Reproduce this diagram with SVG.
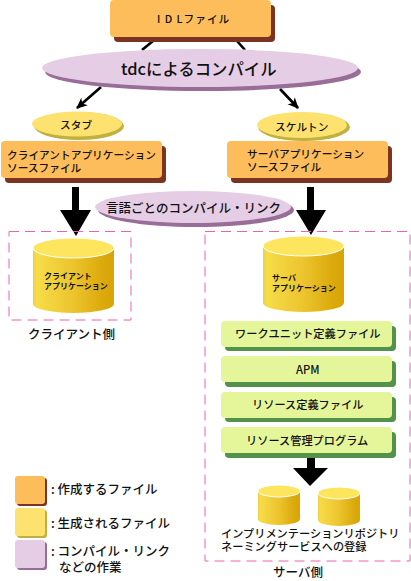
<svg xmlns="http://www.w3.org/2000/svg" width="411" height="581" viewBox="0 0 411 581">
<style>
text{font-family:"Noto Sans CJK JP","Noto Sans",sans-serif;font-weight:500;fill:#111}
.o{fill:#fdbd5a}.os{fill:#7b3322}
.y{fill:#fde26f}.ys{fill:#c0b040}
.p{fill:#e5cde5}.ps{fill:#986d98}
.g{fill:#e5f59a}.gs{fill:#52924a}
.t11{font-size:11.2px}.t10{font-size:10.7px}.t12{font-size:12.5px}.t8{font-size:8px;font-weight:700}
.dash{fill:none;stroke:#e866a8;stroke-width:1;stroke-dasharray:10 6}
.cyltop{fill:#fde55e;stroke:#fff;stroke-width:1}
.thin{stroke:#000;stroke-width:2.6;fill:none}
</style>
<defs>
<linearGradient id="cg" x1="0" x2="1" y1="0" y2="0">
<stop offset="0" stop-color="#f0d040"/><stop offset=".05" stop-color="#f6dc48"/><stop offset=".5" stop-color="#ecc42e"/><stop offset=".85" stop-color="#dcaa0c"/><stop offset="1" stop-color="#d8a408"/>
</linearGradient>
<marker id="ah" markerWidth="8" markerHeight="8" refX="6" refY="4" orient="auto" markerUnits="userSpaceOnUse" overflow="visible">
<path d="M-4,-1 L7,4 L-4,9 L-1,4 Z" fill="#000"/>
</marker>
</defs>
<g id="connectors">
<path class="thin" d="M153,41 L142,50"/>
<path class="thin" d="M237,41 L245,50"/>
<path class="thin" d="M101,87 L77,108" marker-end="url(#ah)"/>
<path class="thin" d="M280,89 L298,108" marker-end="url(#ah)"/>
<path d="M72,187H79V210H91L76,236L60,210H72Z" fill="#000"/>
<path d="M307,187H314V210H326L311,235L296,210H307Z" fill="#000"/>
<path d="M307,453H315V468H328L310,486L293,468H307Z" fill="#000"/>
</g>
<g id="dashed-areas">
<rect class="dash" x="9" y="231.500" width="122" height="88.500"/>
<rect class="dash" x="205" y="231.500" width="205" height="329.500"/>
</g>
<g id="idl"><rect class="os" x="114" y="5" width="161" height="37" rx="4"/><rect class="o" x="110" y="0" width="161" height="37" rx="4"/><text class="t10" x="157" y="23" letter-spacing="1">I D Lファイル</text></g>
<g id="tdc"><ellipse class="ps" cx="203" cy="72" rx="158" ry="19"/><ellipse class="p" cx="200" cy="68" rx="158" ry="19"/><text x="121" y="75" font-size="16.4">tdcによるコンパイル</text></g>
<g id="stub"><ellipse class="ys" cx="79" cy="126" rx="45" ry="14"/><ellipse class="y" cx="77" cy="124" rx="45" ry="12.500"/><text class="t10" x="60" y="129">スタブ</text></g>
<g id="skeleton"><ellipse class="ys" cx="304" cy="127" rx="46" ry="14"/><ellipse class="y" cx="302" cy="125" rx="45" ry="13"/><text class="t10" x="275" y="131">スケルトン</text></g>
<g id="client-source"><rect class="os" x="5" y="146" width="161" height="37" rx="4"/><rect class="o" x="1" y="141" width="161" height="37" rx="4"/><text class="t10" x="7" y="159">クライアントアプリケーション</text><text class="t10" x="7" y="172">ソースファイル</text></g>
<g id="server-source"><rect class="os" x="231" y="146" width="161" height="37" rx="4"/><rect class="o" x="227" y="141" width="161" height="37" rx="4"/><text class="t10" x="247" y="158">サーバアプリケーション</text><text class="t10" x="247" y="171">ソースファイル</text></g>
<g id="compile-link"><ellipse class="ps" cx="196" cy="210" rx="98" ry="17"/><ellipse class="p" cx="193" cy="207" rx="98" ry="16"/><text class="t12" x="106" y="213">言語ごとのコンパイル・リンク</text></g>
<g id="client-app"><path d="M33,248V304A40.500,9 0 0 0 114,304V248Z" fill="url(#cg)"/><ellipse class="cyltop" cx="73.500" cy="248" rx="40.500" ry="10"/><text class="t8" x="44" y="279">クライアント</text><text class="t8" x="44" y="289">アプリケーション</text></g>
<text class="t12" x="28" y="339">クライアント側</text>
<g id="server-app"><path d="M263,246V303A40.500,9 0 0 0 344,303V246Z" fill="url(#cg)"/><ellipse class="cyltop" cx="303.500" cy="246" rx="40.500" ry="10"/><text class="t8" x="272" y="281">サーバ</text><text class="t8" x="272" y="291">アプリケーション</text></g>
<g id="workunit"><rect class="gs" x="225" y="326" width="171" height="25" rx="4"/><rect class="g" x="221" y="321" width="171" height="26" rx="4"/><text class="t11" x="235" y="338">ワークユニット定義ファイル</text></g>
<g id="apm"><rect class="gs" x="225" y="361" width="171" height="26" rx="4"/><rect class="g" x="221" y="356" width="171" height="26" rx="4"/><text class="t11" x="296" y="374">APM</text></g>
<g id="resource-def"><rect class="gs" x="225" y="397" width="171" height="25" rx="4"/><rect class="g" x="221" y="392" width="171" height="26" rx="4"/><text class="t11" x="252" y="409">リソース定義ファイル</text></g>
<g id="resource-mgr"><rect class="gs" x="225" y="432" width="171" height="26" rx="4"/><rect class="g" x="221" y="427" width="171" height="26" rx="4"/><text class="t11" x="246" y="445">リソース管理プログラム</text></g>
<g id="repo"><path d="M258,491V519A21,6 0 0 0 300,519V491Z" fill="url(#cg)"/><ellipse class="cyltop" cx="279" cy="491" rx="21" ry="6"/></g>
<g id="naming"><path d="M318,493V520A21,6 0 0 0 360,520V493Z" fill="url(#cg)"/><ellipse class="cyltop" cx="339" cy="493" rx="21" ry="6"/></g>
<text class="t11" x="221" y="538">インプリメンテーションリポジトリ</text>
<text class="t11" x="221" y="551">ネーミングサービスへの登録</text>
<text class="t12" x="273" y="577">サーバ側</text>
<g id="legend-o"><rect class="os" x="17" y="478" width="30" height="28" rx="3"/><rect class="o" x="15" y="476" width="30" height="28" rx="3"/><text class="t12" x="51" y="494">: 作成するファイル</text></g>
<g id="legend-y"><rect class="ys" x="17" y="510" width="30" height="28" rx="3"/><rect class="y" x="15" y="508" width="30" height="28" rx="3"/><text class="t12" x="51" y="528">: 生成されるファイル</text></g>
<g id="legend-p"><rect class="ps" x="17" y="542" width="30" height="28" rx="3"/><rect class="p" x="15" y="540" width="30" height="28" rx="3"/><text class="t12" x="51" y="556">: コンパイル・リンク</text><text class="t12" x="59" y="572">などの作業</text></g>
</svg>
